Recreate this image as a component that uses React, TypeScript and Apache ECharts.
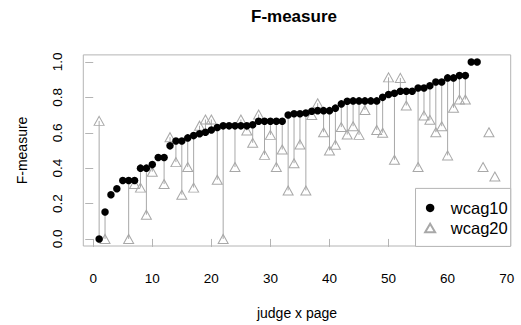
import React, { useEffect, useRef } from "react";
import * as echarts from "echarts";

const wcag10: number[] = [
  0.0, 0.152, 0.25, 0.284, 0.33, 0.33, 0.33, 0.4, 0.4, 0.42,
  0.46, 0.46, 0.526, 0.553, 0.553, 0.571, 0.584, 0.594, 0.603, 0.616,
  0.63, 0.639, 0.639, 0.639, 0.639, 0.639, 0.645, 0.665, 0.665, 0.665,
  0.665, 0.665, 0.7, 0.707, 0.707, 0.712, 0.722, 0.725, 0.725, 0.725,
  0.739, 0.763, 0.778, 0.78, 0.78, 0.78, 0.78, 0.78, 0.8, 0.816,
  0.823, 0.835, 0.835, 0.835, 0.853, 0.853, 0.866, 0.887, 0.887, 0.91,
  0.91, 0.923, 0.923, 1.0, 1.0,
];

// null = no visible wcag20 mark at that position
const wcag20: (number | null)[] = [
  0.667, 0.0, null, null, null, 0.0, 0.31, 0.29, 0.137, 0.38,
  null, 0.31, 0.575, 0.434, 0.25, 0.406, 0.29, 0.64, 0.675, 0.675,
  0.334, 0.0, null, 0.406, 0.675, 0.613, 0.543, 0.703, 0.475, 0.588,
  0.406, 0.505, 0.274, 0.428, 0.534, 0.274, 0.7, 0.767, 0.603, 0.5,
  0.532, 0.632, 0.59, 0.637, 0.588, 0.729, null, 0.616, 0.6, 0.913,
  0.447, 0.91, 0.754, null, 0.406, 0.697, 0.673, 0.603, 0.637, 0.472,
  0.741, 0.788, 0.788, null, null, 0.406, 0.603, 0.353,
];

const xTicks: number[] = [0, 10, 20, 30, 40, 50, 60, 70];
const yTicks: number[] = [0, 0.2, 0.4, 0.6, 0.8, 1.0];

const FONT = "'Liberation Sans', Arial, Helvetica, sans-serif";
const GRAY = "#b4b4b4";

export default function App() {
  const ref = useRef<HTMLDivElement>(null);

  useEffect(() => {
    document.body.style.margin = "0";
    if (!ref.current) return;
    const chart = echarts.init(ref.current, null, { renderer: "svg" });

    const d10 = wcag10.map((v, i) => [i + 1, v]);
    const d20 = wcag20
      .map((v, i) => (v === null ? null : [i + 1, v]))
      .filter((p) => p !== null);
    const segs: number[][] = [];
    for (let i = 0; i < Math.min(wcag10.length, wcag20.length); i++) {
      const b = wcag20[i];
      if (b !== null) segs.push([i + 1, wcag10[i], b]);
    }

    chart.setOption({
      animation: false,
      backgroundColor: "#ffffff",
      textStyle: { fontFamily: FONT },
      title: {
        text: "F-measure",
        left: 251,
        top: 8,
        padding: 0,
        textStyle: { fontFamily: FONT, fontSize: 17, fontWeight: "bold", color: "#000" },
      },
      grid: {
        left: 83.3,
        right: 10.3,
        top: 54.9,
        bottom: 78.6,
        show: true,
        borderColor: GRAY,
        borderWidth: 1,
        backgroundColor: "transparent",
      },
      legend: {
        orient: "vertical",
        right: 10.3,
        bottom: 78.6,
        padding: [11, 3, 10, 8.6],
        itemGap: 3,
        itemWidth: 10,
        itemHeight: 8.5,
        borderColor: GRAY,
        borderWidth: 1,
        backgroundColor: "#fff",
        textStyle: { fontFamily: FONT, fontSize: 16.5, color: "#000", padding: [0, 0, 0, 10.7] },
        data: ["wcag10", "wcag20"],
      },
      xAxis: {
        type: "value",
        min: -1.68,
        max: 70.68,
        name: "judge x page",
        nameLocation: "middle",
        nameGap: 60,
        nameTextStyle: { fontFamily: FONT, fontSize: 14, color: "#000" },
        axisLine: { show: false },
        splitLine: { show: false },
        axisTick: { show: true, length: 8, customValues: xTicks, lineStyle: { color: GRAY } },
        axisLabel: {
          customValues: xTicks,
          margin: 25,
          fontFamily: FONT,
          fontSize: 13.5,
          color: "#000",
        },
      },
      yAxis: {
        type: "value",
        min: -0.04,
        max: 1.04,
        name: "F-measure",
        nameLocation: "middle",
        nameGap: 54,
        nameTextStyle: { fontFamily: FONT, fontSize: 14, color: "#000" },
        axisLine: { show: false },
        splitLine: { show: false },
        axisTick: { show: true, length: 8, customValues: yTicks, lineStyle: { color: GRAY } },
        axisLabel: {
          customValues: yTicks,
          rotate: 90,
          margin: 19,
          fontFamily: FONT,
          fontSize: 13.5,
          color: "#000",
          formatter: (v: number) => v.toFixed(1),
        },
      },
      series: [
        {
          type: "custom",
          name: "segments",
          silent: true,
          z: 1,
          data: segs,
          renderItem: (params: any, api: any) => {
            const p1 = api.coord([api.value(0), api.value(1)]);
            const p2 = api.coord([api.value(0), api.value(2)]);
            return {
              type: "line",
              shape: { x1: p1[0], y1: p1[1], x2: p2[0], y2: p2[1] },
              style: { stroke: "#a8a8a8", lineWidth: 1 },
            };
          },
        },
        {
          type: "scatter",
          name: "wcag20",
          z: 2,
          symbol: "triangle",
          symbolSize: [10, 9],
          itemStyle: { color: "transparent", borderColor: "#a8a8a8", borderWidth: 1, opacity: 1 },
          data: d20,
        },
        {
          type: "scatter",
          name: "wcag10",
          z: 3,
          symbol: "circle",
          symbolSize: 7.5,
          itemStyle: { color: "#000", opacity: 1 },
          data: d10,
        },
      ],
    });

    return () => chart.dispose();
  }, []);

  return <div ref={ref} style={{ width: 521, height: 325 }} />;
}
